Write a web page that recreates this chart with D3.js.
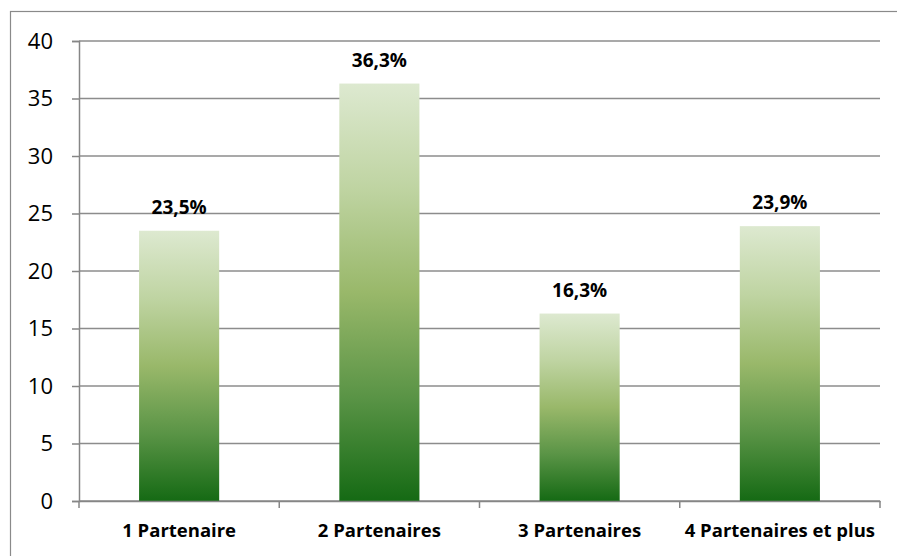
<!DOCTYPE html>
<html>
<head>
<meta charset="utf-8">
<script src="https://cdn.jsdelivr.net/npm/d3@7"></script>
<style>
  html, body { margin: 0; padding: 0; background: #fff; }
  svg { display: block; }
</style>
</head>
<body>
<div id="chart"></div>
<script>
// donnees
var categories = ["1 Partenaire", "2 Partenaires", "3 Partenaires", "4 Partenaires et plus"];
var valeurs = [23.5, 36.3, 16.3, 23.9];
var etiquettes = ["23,5%", "36,3%", "16,3%", "23,9%"];
var ticksY = [0, 5, 10, 15, 20, 25, 30, 35, 40];

var largeur = 897, hauteur = 556;
var marge = { left: 79, right: 17, top: 41, bottom: 55 };
var plotW = largeur - marge.left - marge.right;
var plotH = hauteur - marge.top - marge.bottom;

var svg = d3.select("#chart").append("svg")
    .attr("width", largeur)
    .attr("height", hauteur);

// degrade vert des barres
var grad = svg.append("defs").append("linearGradient")
    .attr("id", "degrade")
    .attr("x1", 0).attr("y1", 0).attr("x2", 0).attr("y2", 1);
grad.append("stop").attr("offset", "0%").attr("stop-color", "#dde9d0");
grad.append("stop").attr("offset", "25%").attr("stop-color", "#bfd4a2");
grad.append("stop").attr("offset", "50%").attr("stop-color", "#99b86a");
grad.append("stop").attr("offset", "75%").attr("stop-color", "#5a9446");
grad.append("stop").attr("offset", "100%").attr("stop-color", "#156a14");

// cadre exterieur
svg.append("rect")
    .attr("x", 10.5).attr("y", 11.5)
    .attr("width", 900).attr("height", 560)
    .attr("fill", "none")
    .attr("stroke", "#8a8a8a")
    .attr("stroke-width", 1.2);

var x = d3.scaleBand()
    .domain(categories)
    .range([0, plotW])
    .paddingInner(0.6)
    .paddingOuter(0.3);

var y = d3.scaleLinear()
    .domain([0, 40])
    .range([plotH, 0]);

var g = svg.append("g")
    .attr("transform", "translate(" + marge.left + "," + marge.top + ")");

// lignes de grille
g.selectAll(".grille").data(ticksY).enter().append("line")
    .attr("class", "grille")
    .attr("x1", 0).attr("x2", plotW)
    .attr("y1", function (d) { return y(d); })
    .attr("y2", function (d) { return y(d); })
    .attr("stroke", "#8c8c8c")
    .attr("stroke-width", 1.5);

// barres
g.selectAll(".barre").data(valeurs).enter().append("rect")
    .attr("class", "barre")
    .attr("x", function (d, i) { return x(categories[i]); })
    .attr("y", function (d) { return y(d); })
    .attr("width", x.bandwidth())
    .attr("height", function (d) { return y(0) - y(d); })
    .attr("fill", "url(#degrade)");

// etiquettes de valeur
g.selectAll(".valeur").data(valeurs).enter().append("text")
    .attr("class", "valeur")
    .attr("x", function (d, i) { return x(categories[i]) + x.bandwidth() / 2; })
    .attr("y", function (d) { return y(d) - 17; })
    .attr("text-anchor", "middle")
    .style("font-family", "'Open Sans', sans-serif")
    .style("font-weight", "bold")
    .style("font-size", "19px")
    .attr("fill", "#000")
    .text(function (d, i) { return etiquettes[i]; });

// axe Y
var axeY = g.append("g")
    .call(d3.axisLeft(y).tickValues(ticksY).tickSize(7).tickPadding(19));
axeY.select(".domain").attr("stroke", "#868686").attr("stroke-width", 1.5);
axeY.selectAll(".tick line").attr("stroke", "#868686").attr("stroke-width", 1.5);
axeY.selectAll(".tick text")
    .style("font-family", "'Open Sans', sans-serif")
    .style("font-size", "22px")
    .attr("fill", "#000");

// axe X
var axeX = g.append("g")
    .attr("transform", "translate(0," + plotH + ")")
    .call(d3.axisBottom(x).tickSize(0).tickPadding(23));
axeX.select(".domain").attr("stroke", "#868686").attr("stroke-width", 1.5);
axeX.selectAll(".tick text")
    .style("font-family", "'Open Sans', sans-serif")
    .style("font-weight", "bold")
    .style("font-size", "18.5px")
    .attr("fill", "#000");

// graduations entre categories
var bornes = d3.range(categories.length + 1).map(function (i) { return i * x.step(); });
g.selectAll(".graduation").data(bornes).enter().append("line")
    .attr("class", "graduation")
    .attr("x1", function (d) { return d; }).attr("x2", function (d) { return d; })
    .attr("y1", plotH).attr("y2", plotH + 7)
    .attr("stroke", "#868686")
    .attr("stroke-width", 1.5);
</script>
</body>
</html>
